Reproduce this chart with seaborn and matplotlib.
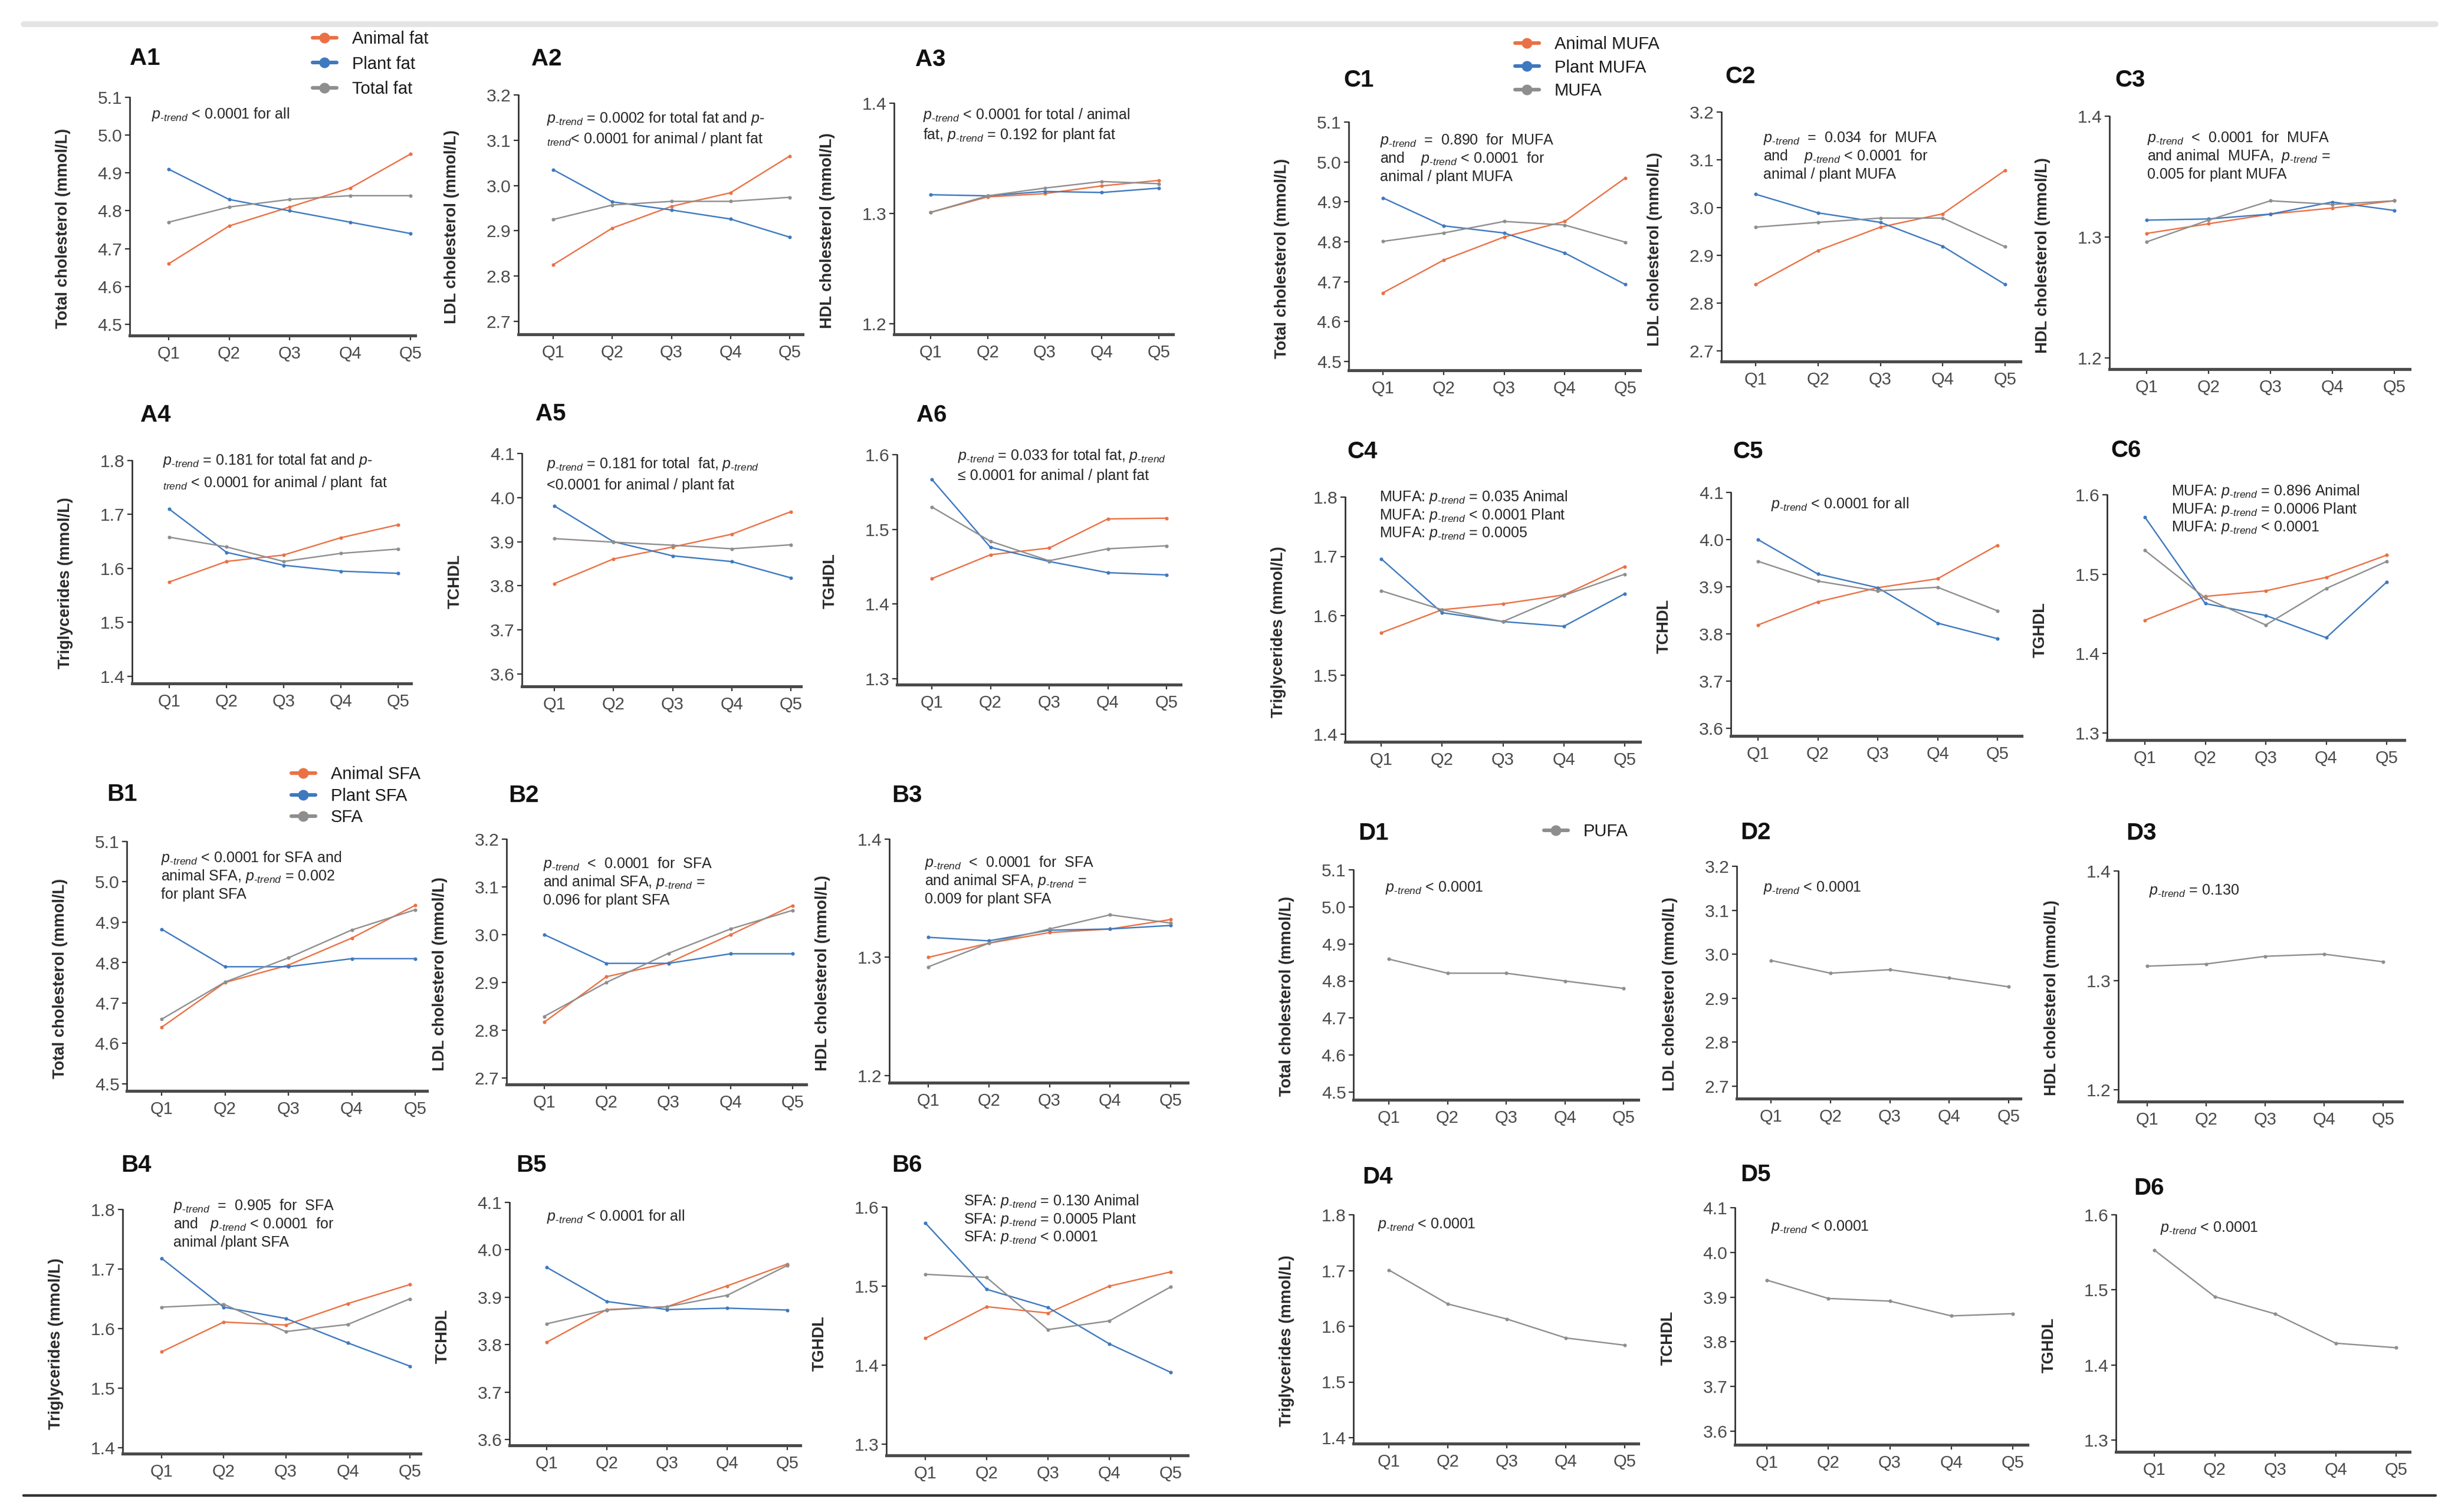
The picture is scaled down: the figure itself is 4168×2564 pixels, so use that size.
import matplotlib
matplotlib.use("Agg")
import matplotlib.pyplot as plt
import seaborn as sns
import pandas as pd
from matplotlib.lines import Line2D

# ---------------------------------------------------------------- data
quintiles = ["Q1", "Q2", "Q3", "Q4", "Q5"]

fat_series = ["Animal fat", "Plant fat", "Total fat"]
sfa_series = ["Animal SFA", "Plant SFA", "SFA"]
mufa_series = ["Animal MUFA", "Plant MUFA", "MUFA"]
pufa_series = ["PUFA"]

# A: total / animal / plant fat
a1_animal = [4.66, 4.76, 4.81, 4.86, 4.95]
a1_plant = [4.91, 4.83, 4.80, 4.77, 4.74]
a1_total = [4.77, 4.81, 4.83, 4.84, 4.84]
a2_animal = [2.825, 2.906, 2.954, 2.984, 3.065]
a2_plant = [3.035, 2.964, 2.946, 2.926, 2.886]
a2_total = [2.925, 2.957, 2.965, 2.965, 2.974]
a3_animal = [1.301, 1.315, 1.318, 1.325, 1.330]
a3_plant = [1.317, 1.316, 1.320, 1.319, 1.323]
a3_total = [1.301, 1.316, 1.323, 1.329, 1.327]
a4_animal = [1.575, 1.613, 1.625, 1.657, 1.681]
a4_plant = [1.710, 1.630, 1.606, 1.595, 1.591]
a4_total = [1.658, 1.640, 1.613, 1.628, 1.636]
a5_animal = [3.805, 3.861, 3.888, 3.917, 3.968]
a5_plant = [3.981, 3.900, 3.868, 3.855, 3.818]
a5_total = [3.907, 3.899, 3.892, 3.884, 3.893]
a6_animal = [1.434, 1.466, 1.475, 1.514, 1.515]
a6_plant = [1.567, 1.476, 1.457, 1.442, 1.439]
a6_total = [1.530, 1.484, 1.458, 1.474, 1.478]

# B: SFA
b1_animal = [4.640, 4.751, 4.794, 4.861, 4.942]
b1_plant = [4.883, 4.790, 4.790, 4.810, 4.810]
b1_total = [4.660, 4.752, 4.812, 4.881, 4.931]
b2_animal = [2.817, 2.912, 2.941, 3.000, 3.061]
b2_plant = [3.000, 2.940, 2.940, 2.960, 2.960]
b2_total = [2.829, 2.900, 2.961, 3.012, 3.051]
b3_animal = [1.300, 1.312, 1.321, 1.324, 1.332]
b3_plant = [1.317, 1.314, 1.323, 1.324, 1.327]
b3_total = [1.292, 1.312, 1.324, 1.336, 1.329]
b4_animal = [1.561, 1.611, 1.606, 1.642, 1.674]
b4_plant = [1.718, 1.636, 1.617, 1.576, 1.537]
b4_total = [1.636, 1.641, 1.595, 1.607, 1.650]
b5_animal = [3.805, 3.874, 3.880, 3.924, 3.970]
b5_plant = [3.963, 3.891, 3.874, 3.877, 3.873]
b5_total = [3.844, 3.873, 3.880, 3.904, 3.967]
b6_animal = [1.434, 1.474, 1.466, 1.500, 1.518]
b6_plant = [1.580, 1.496, 1.473, 1.427, 1.391]
b6_total = [1.515, 1.511, 1.445, 1.456, 1.499]

# C: MUFA
c1_animal = [4.672, 4.754, 4.812, 4.851, 4.960]
c1_plant = [4.910, 4.840, 4.822, 4.772, 4.693]
c1_total = [4.801, 4.822, 4.851, 4.842, 4.799]
c2_animal = [2.839, 2.910, 2.959, 2.987, 3.078]
c2_plant = [3.028, 2.989, 2.969, 2.919, 2.839]
c2_total = [2.959, 2.969, 2.978, 2.978, 2.918]
c3_animal = [1.303, 1.311, 1.319, 1.324, 1.330]
c3_plant = [1.314, 1.315, 1.319, 1.329, 1.322]
c3_total = [1.296, 1.314, 1.330, 1.327, 1.330]
c4_animal = [1.571, 1.610, 1.620, 1.635, 1.683]
c4_plant = [1.696, 1.605, 1.590, 1.582, 1.637]
c4_total = [1.642, 1.610, 1.590, 1.634, 1.670]
c5_animal = [3.819, 3.868, 3.898, 3.917, 3.988]
c5_plant = [4.000, 3.927, 3.898, 3.823, 3.790]
c5_total = [3.954, 3.912, 3.891, 3.899, 3.849]
c6_animal = [1.442, 1.472, 1.479, 1.496, 1.524]
c6_plant = [1.572, 1.463, 1.448, 1.420, 1.490]
c6_total = [1.530, 1.470, 1.436, 1.482, 1.516]

# D: PUFA
d1_pufa = [4.859, 4.821, 4.821, 4.800, 4.780]
d2_pufa = [2.986, 2.957, 2.965, 2.946, 2.926]
d3_pufa = [1.313, 1.315, 1.322, 1.324, 1.317]
d4_pufa = [1.701, 1.640, 1.613, 1.579, 1.566]
d5_pufa = [3.938, 3.897, 3.891, 3.858, 3.863]
d6_pufa = [1.553, 1.491, 1.468, 1.429, 1.423]

ylabels = ["Total cholesterol (mmol/L)", "LDL cholesterol (mmol/L)",
           "HDL cholesterol (mmol/L)", "Triglycerides (mmol/L)", "TCHDL", "TGHDL"]
yranges = [(4.5, 5.1), (2.7, 3.2), (1.2, 1.4), (1.4, 1.8), (3.6, 4.1), (1.3, 1.6)]

P = "$p_{\\mathit{\u2010trend}}$"
T = "${}_{\\mathit{trend}}$"
p_ = "$p$"

notes = {
    "A1": [P + " < 0.0001 for all"],
    "A2": [P + " = 0.0002 for total fat and " + p_ + "-", T + "< 0.0001 for animal / plant fat"],
    "A3": [P + " < 0.0001 for total / animal", "fat, " + P + " = 0.192 for plant fat"],
    "A4": [P + " = 0.181 for total fat and " + p_ + "-", T + " < 0.0001 for animal / plant  fat"],
    "A5": [P + " = 0.181 for total  fat, " + P, "<0.0001 for animal / plant fat"],
    "A6": [P + " = 0.033 for total fat, " + P, "\u2264 0.0001 for animal / plant fat"],
    "B1": [P + " < 0.0001 for SFA and", "animal SFA, " + P + " = 0.002", "for plant SFA"],
    "B2": [P + "  <  0.0001  for  SFA", "and animal SFA, " + P + " =", "0.096 for plant SFA"],
    "B3": [P + "  <  0.0001  for  SFA", "and animal SFA, " + P + " =", "0.009 for plant SFA"],
    "B4": [P + "  =  0.905  for  SFA", "and   " + P + " < 0.0001  for", "animal /plant SFA"],
    "B5": [P + " < 0.0001 for all"],
    "B6": ["SFA: " + P + " = 0.130 Animal", "SFA: " + P + " = 0.0005 Plant", "SFA: " + P + " < 0.0001"],
    "C1": [P + "  =  0.890  for  MUFA", "and    " + P + " < 0.0001  for", "animal / plant MUFA"],
    "C2": [P + "  =  0.034  for  MUFA", "and    " + P + " < 0.0001  for", "animal / plant MUFA"],
    "C3": [P + "  <  0.0001  for  MUFA", "and animal  MUFA,  " + P + " =", "0.005 for plant MUFA"],
    "C4": ["MUFA: " + P + " = 0.035 Animal", "MUFA: " + P + " < 0.0001 Plant", "MUFA: " + P + " = 0.0005"],
    "C5": [P + " < 0.0001 for all"],
    "C6": ["MUFA: " + P + " = 0.896 Animal", "MUFA: " + P + " = 0.0006 Plant", "MUFA: " + P + " < 0.0001"],
    "D1": [P + " < 0.0001"],
    "D2": [P + " < 0.0001"],
    "D3": [P + " = 0.130"],
    "D4": [P + " < 0.0001"],
    "D5": [P + " < 0.0001"],
    "D6": [P + " < 0.0001"],
}

panels = {
    "A1": (fat_series, [a1_animal, a1_plant, a1_total], 0),
    "A2": (fat_series, [a2_animal, a2_plant, a2_total], 1),
    "A3": (fat_series, [a3_animal, a3_plant, a3_total], 2),
    "A4": (fat_series, [a4_animal, a4_plant, a4_total], 3),
    "A5": (fat_series, [a5_animal, a5_plant, a5_total], 4),
    "A6": (fat_series, [a6_animal, a6_plant, a6_total], 5),
    "B1": (sfa_series, [b1_animal, b1_plant, b1_total], 0),
    "B2": (sfa_series, [b2_animal, b2_plant, b2_total], 1),
    "B3": (sfa_series, [b3_animal, b3_plant, b3_total], 2),
    "B4": (sfa_series, [b4_animal, b4_plant, b4_total], 3),
    "B5": (sfa_series, [b5_animal, b5_plant, b5_total], 4),
    "B6": (sfa_series, [b6_animal, b6_plant, b6_total], 5),
    "C1": (mufa_series, [c1_animal, c1_plant, c1_total], 0),
    "C2": (mufa_series, [c2_animal, c2_plant, c2_total], 1),
    "C3": (mufa_series, [c3_animal, c3_plant, c3_total], 2),
    "C4": (mufa_series, [c4_animal, c4_plant, c4_total], 3),
    "C5": (mufa_series, [c5_animal, c5_plant, c5_total], 4),
    "C6": (mufa_series, [c6_animal, c6_plant, c6_total], 5),
    "D1": (pufa_series, [d1_pufa], 0),
    "D2": (pufa_series, [d2_pufa], 1),
    "D3": (pufa_series, [d3_pufa], 2),
    "D4": (pufa_series, [d4_pufa], 3),
    "D5": (pufa_series, [d5_pufa], 4),
    "D6": (pufa_series, [d6_pufa], 5),
}

# ---------------------------------------------------------------- layout (pixels)
W, H, DPI = 4168, 2564, 200
# box: y-axis x, x-axis right end, top (ymax tick), x-axis y, Q1 x, Q5 x, y pixel of ymin tick
layout = {
    "A1": dict(box=(220, 704, 165, 569, 286, 696, 550), lab=(246, 99), note=(257, 194, 34)),
    "A2": dict(box=(879, 1361, 161, 567, 938, 1339, 545), lab=(927, 100), note=(927, 201, 35)),
    "A3": dict(box=(1516, 1989, 175, 567, 1578, 1965, 549), lab=(1578, 101), note=(1565, 195, 34)),
    "A4": dict(box=(224, 697, 781, 1159, 287, 675, 1147), lab=(264, 704), note=(276, 781, 38)),
    "A5": dict(box=(885, 1358, 769, 1164, 940, 1341, 1143), lab=(934, 702), note=(927, 787, 36)),
    "A6": dict(box=(1521, 2002, 771, 1161, 1580, 1978, 1151), lab=(1580, 704), note=(1624, 773, 34)),
    "B1": dict(box=(215, 724, 1427, 1850, 274, 704, 1838), lab=(207, 1347), note=(273, 1455, 31)),
    "B2": dict(box=(859, 1367, 1423, 1839, 923, 1344, 1828), lab=(888, 1349), note=(921, 1465, 31)),
    "B3": dict(box=(1508, 2014, 1423, 1836, 1574, 1985, 1824), lab=(1538, 1349), note=(1568, 1463, 31)),
    "B4": dict(box=(208, 713, 2051, 2465, 274, 695, 2455), lab=(231, 1976), note=(294, 2045, 31)),
    "B5": dict(box=(864, 1357, 2039, 2451, 927, 1335, 2441), lab=(901, 1976), note=(927, 2063, 31)),
    "B6": dict(box=(1503, 2014, 2047, 2468, 1569, 1985, 2449), lab=(1538, 1976), note=(1634, 2037, 31)),
    "C1": dict(box=(2287, 2781, 207, 628, 2345, 2756, 613), lab=(2304, 136), note=(2340, 238, 31)),
    "C2": dict(box=(2919, 3426, 190, 613, 2977, 3400, 595), lab=(2951, 130), note=(2990, 234, 31)),
    "C3": dict(box=(3577, 4086, 197, 626, 3640, 4060, 607), lab=(3612, 136), note=(3641, 234, 31)),
    "C4": dict(box=(2281, 2781, 843, 1258, 2342, 2755, 1245), lab=(2310, 766), note=(2339, 843, 31)),
    "C5": dict(box=(2935, 3428, 835, 1248, 2981, 3387, 1235), lab=(2964, 766), note=(3003, 855, 31)),
    "C6": dict(box=(3573, 4077, 839, 1255, 3637, 4047, 1243), lab=(3605, 764), note=(3682, 833, 31)),
    "D1": dict(box=(2295, 2778, 1475, 1865, 2355, 2753, 1852), lab=(2329, 1413), note=(2349, 1506, 31)),
    "D2": dict(box=(2945, 3426, 1469, 1863, 3003, 3406, 1842), lab=(2977, 1412), note=(2990, 1506, 31)),
    "D3": dict(box=(3592, 4073, 1477, 1868, 3641, 4041, 1848), lab=(3631, 1413), note=(3644, 1510, 31)),
    "D4": dict(box=(2295, 2778, 2060, 2448, 2355, 2755, 2438), lab=(2336, 1996), note=(2336, 2077, 31)),
    "D5": dict(box=(2942, 3438, 2048, 2450, 2996, 3413, 2427), lab=(2977, 1992), note=(3003, 2081, 31)),
    "D6": dict(box=(3588, 4086, 2060, 2462, 3653, 4063, 2442), lab=(3644, 2015), note=(3663, 2083, 31)),
}
# legends: (handle left x, top y, labelspacing)
legends = {"A1": (530, 52, 0.50), "B1": (494, 1299, 0.30), "C1": (2569, 61, 0.40), "D1": (2618, 1396, 0.4)}

ORANGE, BLUE, GRAY = "#EA7145", "#3E79BF", "#8E8E8E"

# ---------------------------------------------------------------- style
sns.set_theme(style="ticks")
plt.rcParams["font.family"] = ["Liberation Sans", "DejaVu Sans"]
plt.rcParams["mathtext.fontset"] = "custom"
plt.rcParams["mathtext.rm"] = "Liberation Sans"
plt.rcParams["mathtext.it"] = "Liberation Sans:italic"
plt.rcParams["mathtext.bf"] = "Liberation Sans:bold"

fig = plt.figure(figsize=(W / DPI, H / DPI), dpi=DPI)
fig.patch.set_facecolor("white")


def fx(x):
    return x / W


def fy(y):
    return 1 - y / H


for key, (names, values, kind) in panels.items():
    L = layout[key]
    left, right, top, bottom, q1, q5, ymin_px = L["box"]
    ymin, ymax = yranges[kind]
    ax = fig.add_axes([fx(left), fy(bottom), (right - left) / W, (bottom - top) / H])
    df = pd.DataFrame({
        "Quintile": quintiles * len(names),
        "Value": [v for s in values for v in s],
        "Series": [n for n in names for _ in quintiles],
    })
    if len(names) == 3:
        pal = dict(zip(names, [ORANGE, BLUE, GRAY]))
    else:
        pal = {names[0]: GRAY}
    sns.lineplot(data=df, x="Quintile", y="Value", hue="Series", hue_order=names,
                 palette=pal, marker="o", markersize=2.2, markeredgewidth=0,
                 linewidth=0.85, sort=False, legend=False, ax=ax)
    sp = (q5 - q1) / 4
    ax.set_xlim(-(q1 - left) / sp, 4 + (right - q5) / sp)
    ybot = ymin - (bottom - ymin_px) / (ymin_px - top) * (ymax - ymin)
    ax.set_ylim(ybot, ymax)
    nt = int(round((ymax - ymin) / 0.1)) + 1
    ticks = [ymin + 0.1 * i for i in range(nt)]
    ax.set_yticks(ticks)
    ax.set_yticklabels([f"{t:.1f}" for t in ticks])
    ax.set_xlabel("")
    ax.set_ylabel(ylabels[kind], fontsize=9.8, fontweight="bold", color="#2a2a2a")
    ax.yaxis.set_label_coords(-100 / (right - left), 0.45)
    for s in ("top", "right"):
        ax.spines[s].set_visible(False)
    ax.spines["left"].set_color("#222222")
    ax.spines["left"].set_linewidth(0.9)
    ax.spines["bottom"].set_color("#4a4a4a")
    ax.spines["bottom"].set_linewidth(1.8)
    ax.tick_params(axis="y", length=3, width=0.8, color="#333333", pad=1.5,
                   labelsize=10.8, labelcolor="#4a4a4a", left=True)
    ax.tick_params(axis="x", length=3, width=0.8, color="#333333", pad=3,
                   labelsize=10.5, labelcolor="#4a4a4a", bottom=True)
    ax.set_facecolor("none")

    # panel label
    lx, ly = L["lab"]
    fig.text(fx(lx), fy(ly), key, fontsize=14.5, fontweight="bold", ha="center", va="center",
             color="#111111")
    # p-trend note
    nx, ny, dy = L["note"]
    for i, line in enumerate(notes[key]):
        fig.text(fx(nx), fy(ny + i * dy), line, fontsize=9, ha="left", va="center",
                 color="#262626")

    if key in legends:
        gx, gy, lsp = legends[key]
        cols = [ORANGE, BLUE, GRAY] if len(names) == 3 else [GRAY]
        handles = [Line2D([], [], color=c, marker="o", markersize=6.5, linewidth=2.2,
                          markeredgewidth=0) for c in cols]
        ax.legend(handles, names, loc="upper left", bbox_to_anchor=(fx(gx), fy(gy)),
                  bbox_transform=fig.transFigure, frameon=False, borderpad=0,
                  borderaxespad=0, handlelength=1.4, handletextpad=0.9,
                  labelspacing=lsp, fontsize=10.5, labelcolor="#1a1a1a")

# page rules (decoration)
fig.add_artist(Line2D([fx(40), fx(4130)], [fy(41), fy(41)], color="#e4e4e4", linewidth=3.5))
fig.add_artist(Line2D([fx(40), fx(4130)], [fy(2536), fy(2536)], color="#333333", linewidth=1.6))

fig.savefig("out.png", dpi=DPI, facecolor="white")
